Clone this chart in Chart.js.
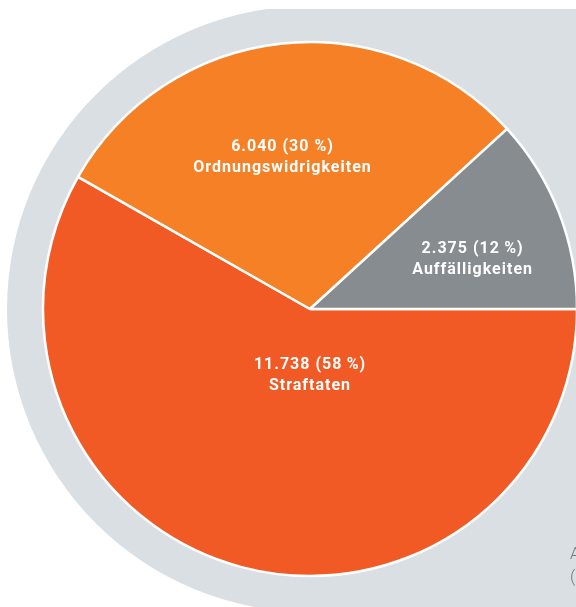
<!DOCTYPE html>
<html>
<head>
<meta charset="utf-8">
<script src="https://cdn.jsdelivr.net/npm/chart.js@4"></script>
<style>
  html, body { margin: 0; padding: 0; background: #ffffff; overflow: hidden; }
  #wrap { position: relative; width: 576px; height: 607px; overflow: hidden; }
  #note { position: absolute; left: 570px; top: 542px; font-family: Roboto, sans-serif; font-weight: 300;
          font-size: 17px; line-height: 23px; color: #737b80; white-space: nowrap; }
</style>
</head>
<body>
<div id="wrap">
  <canvas id="c" width="576" height="607"></canvas>
  <div id="note">A<br>(</div>
</div>
<script>
// Data
const categories = ['Straftaten', 'Ordnungswidrigkeiten', 'Auffälligkeiten'];
const values = [11738, 6040, 2375];
const valueLabels = ['11.738', '6.040', '2.375'];
const percentLabels = ['58\u2009%', '30 %', '12\u2009%'];

// Styles
const colors = ['#F15A24', '#F58025', '#868C8F'];
const labelOffsets = [[0, 0.249], [-0.103, -0.567], [0.609, -0.185]]; // fractions of radius

const bgPlugin = {
  id: 'bgShape',
  beforeDatasetsDraw(chart) {
    const arc = chart.getDatasetMeta(0).data[0];
    if (!arc) return;
    const ctx = chart.ctx;
    const cx = arc.x, cy = arc.y, R = arc.outerRadius + 36;
    const top = cy - arc.outerRadius - 33;
    ctx.save();
    ctx.beginPath();
    ctx.rect(0, top, chart.width, chart.height - top);
    ctx.clip();
    ctx.fillStyle = '#DADFE3';
    ctx.beginPath();
    ctx.arc(cx, cy, R, 0, Math.PI * 2);
    ctx.fill();
    ctx.fillRect(cx, top, chart.width - cx, chart.height - top);
    ctx.restore();
  }
};

const labelPlugin = {
  id: 'sliceLabels',
  afterDatasetsDraw(chart) {
    const meta = chart.getDatasetMeta(0);
    const ctx = chart.ctx;
    ctx.save();
    ctx.fillStyle = '#ffffff';
    ctx.textAlign = 'center';
    ctx.textBaseline = 'middle';
    ctx.font = 'bold 16px Roboto, "DejaVu Sans", sans-serif';
    if ('letterSpacing' in ctx) ctx.letterSpacing = '1px';
    meta.data.forEach((arc, i) => {
      const r = arc.outerRadius;
      const x = arc.x + labelOffsets[i][0] * r;
      const y = arc.y + labelOffsets[i][1] * r;
      ctx.fillText(valueLabels[i] + ' (' + percentLabels[i] + ')', x, y - 10.5);
      ctx.fillText(categories[i], x, y + 10.5);
    });
    ctx.restore();
  }
};

new Chart(document.getElementById('c'), {
  type: 'pie',
  data: {
    labels: categories,
    datasets: [{
      data: values,
      backgroundColor: colors,
      borderColor: '#ffffff',
      borderWidth: 2.5,
      borderAlign: 'center'
    }]
  },
  options: {
    responsive: false,
    animation: false,
    rotation: 90,
    radius: 267,
    layout: { padding: { left: 44, right: 0, top: 11, bottom: 0 } },
    plugins: {
      legend: { display: false },
      tooltip: { enabled: false }
    }
  },
  plugins: [bgPlugin, labelPlugin]
});
</script>
</body>
</html>
